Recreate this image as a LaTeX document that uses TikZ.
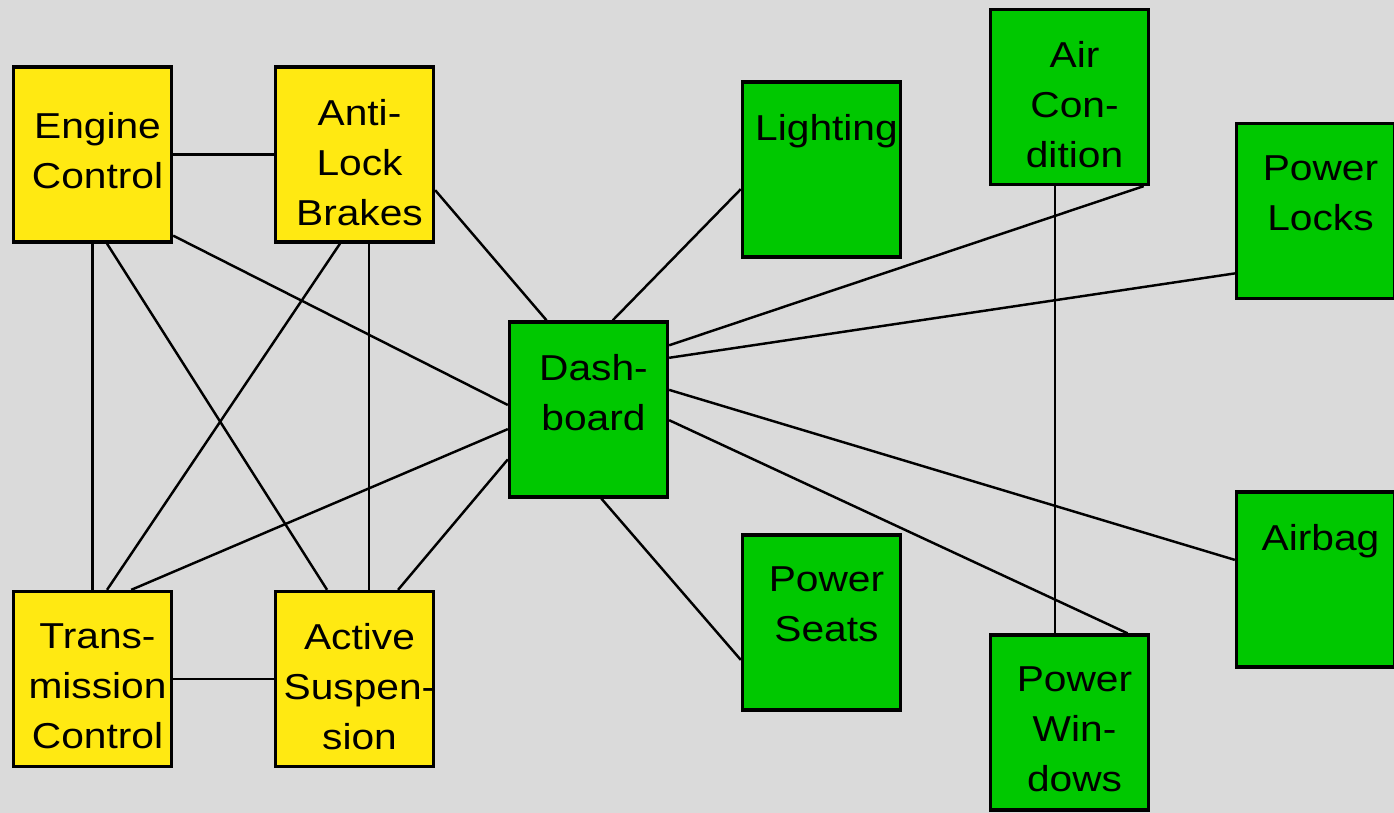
\documentclass[tikz,border=0pt]{standalone}
\usepackage{fontspec}
\setmainfont[FakeStretch=1.13]{Liberation Sans}
\usetikzlibrary{calc}
\definecolor{bggray}{RGB}{218,218,218}
\definecolor{ecuyellow}{RGB}{255,233,18}
\definecolor{ecugreen}{RGB}{0,200,0}

\begin{document}
\begin{tikzpicture}[x=0.02cm, y=-0.02cm,
  box/.style={draw, line width=1.9pt, minimum width=3.16cm, minimum height=3.5cm, inner sep=0pt},
  ecu/.style={box, fill=ecuyellow},
  dev/.style={box, fill=ecugreen},
  txt/.style={anchor=north, inner sep=0pt, align=center, xshift=0.1cm, yshift=-0.67cm,
    font=\fontsize{20.5}{28.45}\selectfont},
  link/.style={line width=1.4pt}]
  % background
  \fill[bggray] (0,0) rectangle (1394,813);
  \useasboundingbox (0,0) rectangle (1394,813);
  % control units
  \node[ecu, label={[txt, yshift=-0.27cm]north:Engine\\Control}] (eng) at (92.5,154.5) {};
  \node[ecu, label={[txt]north:Anti-\\Lock\\Brakes}] (abs) at (354.5,154.5) {};
  \node[ecu, label={[txt]north:Trans-\\mission\\Control}] (tra) at (92.5,679) {};
  \node[ecu, label={[txt]north:Active\\Suspen-\\sion}] (act) at (354.5,679) {};
  % body devices
  \node[dev, label={[txt]north:Dash-\\board}] (dash) at (588.5,409.5) {};
  \node[dev, label={[txt]north:Lighting}] (light) at (821.5,169.5) {};
  \node[dev, label={[txt]north:Air\\Con-\\dition}] (air) at (1069.5,97) {};
  \node[dev, label={[txt]north:Power\\Locks}] (locks) at (1315.5,211) {};
  \node[dev, label={[txt]north:Airbag}] (airbag) at (1315.5,579.5) {};
  \node[dev, label={[txt]north:Power\\Seats}] (seats) at (821.5,622.5) {};
  \node[dev, label={[txt]north:Power\\Win-\\dows}] (win) at (1069.5,722.5) {};
  % links between control units
  \draw[link] (eng.east) -- (abs.west);
  \draw[link] (eng.south) -- (tra.north);
  \draw[link] (tra.east) -- (act.west);
  \draw[link] ($(eng.south west)!0.59!(eng.south east)$) -- ($(act.north west)!0.33!(act.north east)$);
  \draw[link] ($(abs.south west)!0.41!(abs.south east)$) -- ($(tra.north west)!0.59!(tra.north east)$);
  \draw[link] ($(abs.south west)!0.59!(abs.south east)$) -- ($(act.north west)!0.59!(act.north east)$);
  % links to the dashboard
  \draw[link] ($(eng.north east)!0.955!(eng.south east)$) -- ($(dash.north west)!0.475!(dash.south west)$);
  \draw[link] ($(abs.north east)!0.70!(abs.south east)$) -- ($(dash.north west)!0.24!(dash.north east)$);
  \draw[link] ($(tra.north west)!0.74!(tra.north east)$) -- ($(dash.north west)!0.61!(dash.south west)$);
  \draw[link] ($(act.north west)!0.77!(act.north east)$) -- ($(dash.north west)!0.78!(dash.south west)$);
  \draw[link] ($(dash.north west)!0.65!(dash.north east)$) -- ($(light.north west)!0.61!(light.south west)$);
  \draw[link] ($(dash.north east)!0.14!(dash.south east)$) -- ($(air.south west)!0.96!(air.south east)$);
  \draw[link] ($(dash.north east)!0.21!(dash.south east)$) -- ($(locks.north west)!0.85!(locks.south west)$);
  \draw[link] ($(dash.north east)!0.39!(dash.south east)$) -- ($(airbag.north west)!0.39!(airbag.south west)$);
  \draw[link] ($(dash.north east)!0.56!(dash.south east)$) -- ($(win.north west)!0.86!(win.north east)$);
  \draw[link] ($(dash.south west)!0.58!(dash.south east)$) -- ($(seats.north west)!0.71!(seats.south west)$);
  \draw[link] ($(air.south west)!0.41!(air.south east)$) -- ($(win.north west)!0.41!(win.north east)$);
\end{tikzpicture}
\end{document}
